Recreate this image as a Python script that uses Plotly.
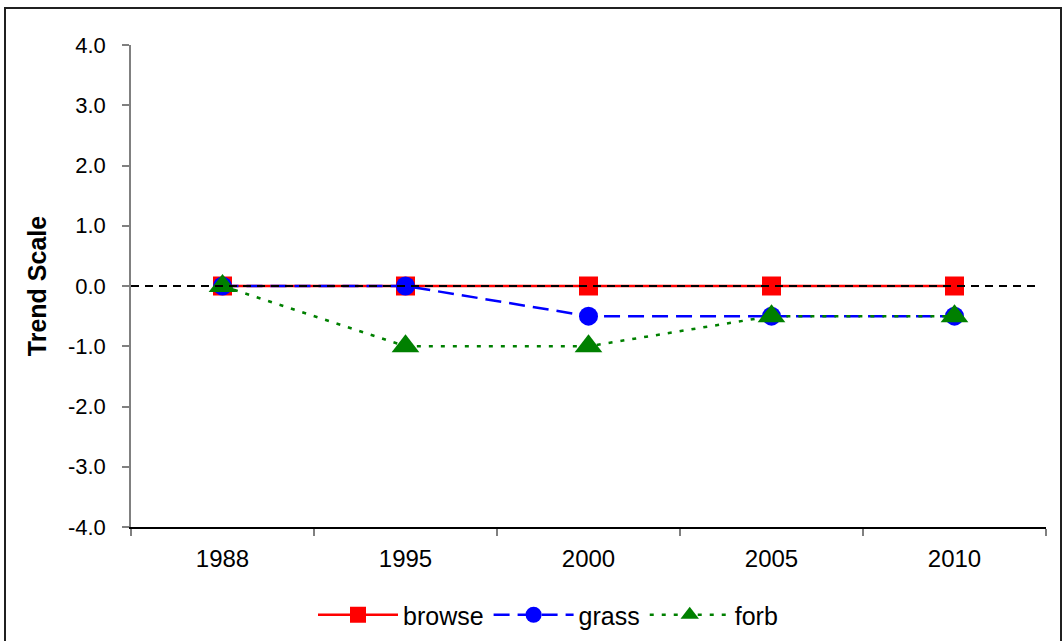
import plotly.graph_objects as go

years = ["1988", "1995", "2000", "2005", "2010"]
browse = [0, 0, 0, 0, 0]
grass = [0, 0, -0.5, -0.5, -0.5]
forb = [0, -1, -1, -0.5, -0.5]
y_ticks = [-4, -3, -2, -1, 0, 1, 2, 3, 4]
y_tick_labels = ["-4.0", "-3.0", "-2.0", "-1.0", "0.0", "1.0", "2.0", "3.0", "4.0"]

W, H = 1064, 641
L, R, T, B = 131, 1046, 45, 527
FONT = "Liberation Sans, Arial, sans-serif"

fig = go.Figure()
fig.add_trace(go.Scatter(
    x=years, y=browse, name="browse", mode="lines+markers",
    line=dict(color="#FF0000", width=2.5),
    marker=dict(symbol="square", size=19, color="#FF0000"),
))
fig.add_trace(go.Scatter(
    x=years, y=grass, name="grass", mode="lines+markers",
    line=dict(color="#0000FF", width=2.5, dash="16px,8px"),
    marker=dict(symbol="circle", size=19, color="#0000FF"),
))
fig.add_trace(go.Scatter(
    x=years, y=forb, name="forb", mode="lines+markers",
    line=dict(color="#008000", width=2.5, dash="4px,8px"),
    marker=dict(symbol="triangle-up", size=24, color="#008000"),
))

pw = R - L
ph = B - T
# zero line on top
fig.add_shape(type="line", xref="paper", yref="y", x0=0, x1=(1035 - L) / pw, y0=0, y1=0,
              line=dict(color="black", width=2, dash="8px,6px"), layer="above")
# outer chart border
fig.add_shape(type="rect", xref="paper", yref="paper",
              x0=(5 - L) / pw, x1=(1061 - L) / pw,
              y0=(B - 700) / ph, y1=(B - 8) / ph,
              line=dict(color="#202020", width=2), fillcolor="rgba(0,0,0,0)", layer="below")

fig.update_layout(
    width=W, height=H,
    margin=dict(l=L, r=W - R, t=T, b=H - B, autoexpand=False),
    paper_bgcolor="white", plot_bgcolor="white",
    font=dict(family=FONT, color="black", size=22),
    showlegend=True,
    legend=dict(orientation="h", x=(548 - L) / pw, xanchor="center",
                y=(B - 615) / ph, yanchor="middle",
                font=dict(size=25), itemwidth=80, bgcolor="rgba(0,0,0,0)"),
    xaxis=dict(
        type="category", range=[-0.5, 4.5], automargin=False,
        showline=True, linecolor="black", linewidth=1.5,
        ticks="outside", tickson="boundaries", ticklen=7, tickcolor="#808080", tickwidth=1.5,
        showgrid=False, zeroline=False, tickfont=dict(size=24),
        ticklabelstandoff=9,
    ),
    yaxis=dict(
        range=[-4, 4], tickvals=y_ticks, ticktext=y_tick_labels, automargin=False,
        showline=True, linecolor="#808080", linewidth=1.5,
        ticks="outside", ticklen=7, tickcolor="#808080", tickwidth=1.5,
        showgrid=False, zeroline=False, tickfont=dict(size=22),
        ticklabelstandoff=12,
        title=dict(text="<b>Trend Scale</b>", font=dict(size=25), standoff=14),
    ),
)

fig.write_html("out.html")
